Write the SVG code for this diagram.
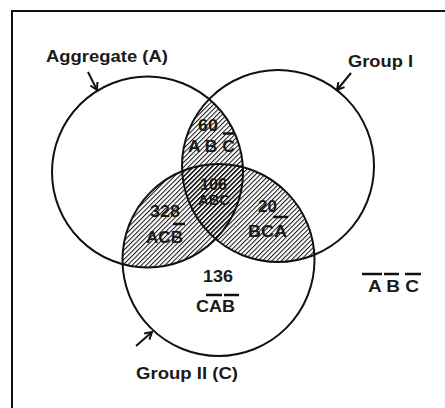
<svg xmlns="http://www.w3.org/2000/svg" width="445" height="408" viewBox="0 0 445 408">
<style>
.c{fill:none;stroke:#111;stroke-width:2}
.t{font-family:"Liberation Sans",Arial,sans-serif;font-weight:bold;fill:#1a1a1a}
.bar{stroke:#111;stroke-width:2.5}
.arr{fill:none;stroke:#111;stroke-width:2}
</style>
<defs>
<pattern id="hatch" patternUnits="userSpaceOnUse" width="3.3" height="10" patternTransform="rotate(45)">
<line x1="0.5" y1="0" x2="0.5" y2="10" stroke="#111" stroke-width="1"/>
</pattern>
<clipPath id="clipA"><circle cx="147.5" cy="172" r="95.5"/></clipPath>
<clipPath id="clipB"><circle cx="278" cy="166" r="96"/></clipPath>
<marker id="head" markerWidth="10" markerHeight="10" refX="8" refY="5" orient="auto" markerUnits="userSpaceOnUse">
<path d="M1,1 L8,5 L1,9" fill="none" stroke="#111" stroke-width="2"/>
</marker>
</defs>
<rect x="12" y="11" width="450" height="420" fill="#fff" stroke="#111" stroke-width="2"/>
<g id="shading">
<circle cx="278" cy="166" r="96" fill="url(#hatch)" clip-path="url(#clipA)"/>
<circle cx="218.5" cy="260" r="96" fill="url(#hatch)" clip-path="url(#clipA)"/>
<circle cx="218.5" cy="260" r="96" fill="url(#hatch)" clip-path="url(#clipB)"/>
</g>
<g id="setA"><circle class="c" cx="147.5" cy="172" r="95.5"/></g>
<g id="setB"><circle class="c" cx="278" cy="166" r="96"/></g>
<g id="setC"><circle class="c" cx="218.5" cy="260" r="96"/></g>
<g id="connectors">
<line class="arr" x1="88" y1="72" x2="97" y2="90" marker-end="url(#head)"/>
<line class="arr" x1="351" y1="73" x2="337" y2="90" marker-end="url(#head)"/>
<line class="arr" x1="136" y1="346" x2="152" y2="332" marker-end="url(#head)"/>
</g>
<g id="labelA"><text class="t" x="46" y="62" font-size="17" textLength="122" lengthAdjust="spacingAndGlyphs">Aggregate (A)</text></g>
<g id="labelB"><text class="t" x="348" y="67" font-size="17" textLength="65" lengthAdjust="spacingAndGlyphs">Group I</text></g>
<g id="labelC"><text class="t" x="136" y="379" font-size="17" textLength="102" lengthAdjust="spacingAndGlyphs">Group II (C)</text></g>
<g id="regionAB">
<text class="t" x="198" y="131" font-size="16" textLength="20" lengthAdjust="spacingAndGlyphs">60</text>
<text class="t" x="188" y="152" font-size="16" textLength="47" lengthAdjust="spacingAndGlyphs">A B C</text>
<line class="bar" x1="223" y1="133.5" x2="235" y2="133.5"/>
</g>
<g id="regionABC">
<text class="t" x="200" y="190" font-size="16" textLength="27" lengthAdjust="spacingAndGlyphs">106</text>
<text class="t" x="198" y="205" font-size="14.5" textLength="32" lengthAdjust="spacingAndGlyphs">ABC</text>
</g>
<g id="regionAC">
<text class="t" x="150" y="217" font-size="17" textLength="30" lengthAdjust="spacingAndGlyphs">328</text>
<text class="t" x="146" y="243" font-size="17" textLength="37" lengthAdjust="spacingAndGlyphs">ACB</text>
<line class="bar" x1="173" y1="224" x2="185" y2="224"/>
</g>
<g id="regionBC">
<text class="t" x="258" y="212" font-size="17" textLength="19" lengthAdjust="spacingAndGlyphs">20</text>
<text class="t" x="248" y="237" font-size="17" textLength="39" lengthAdjust="spacingAndGlyphs">BCA</text>
<line class="bar" x1="273" y1="217" x2="288" y2="217"/>
</g>
<g id="regionC">
<text class="t" x="203" y="282" font-size="17" textLength="30" lengthAdjust="spacingAndGlyphs">136</text>
<text class="t" x="196" y="312" font-size="17" textLength="39" lengthAdjust="spacingAndGlyphs">CAB</text>
<line class="bar" x1="206" y1="295" x2="222" y2="295"/>
<line class="bar" x1="224" y1="295" x2="239" y2="295"/>
</g>
<g id="outside">
<text class="t" x="368" y="292" font-size="17" textLength="51" lengthAdjust="spacingAndGlyphs">A B C</text>
<line class="bar" x1="362" y1="274" x2="382" y2="274"/>
<line class="bar" x1="384" y1="274" x2="399" y2="274"/>
<line class="bar" x1="405" y1="274" x2="421" y2="274"/>
</g>
</svg>
